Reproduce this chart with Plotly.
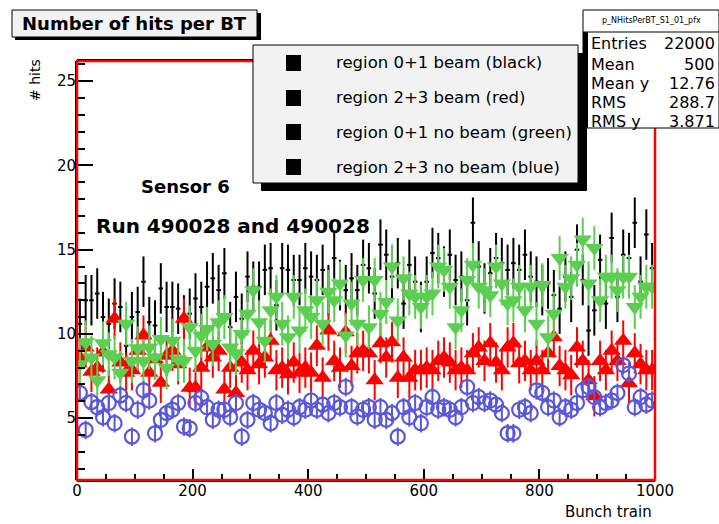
import plotly.graph_objects as go

# ---------------- data ----------------
bunch_train = [5 + 10 * i for i in range(100)]

black_beam01 = [10.6, 12.0, 12.0, 12.4, 11.0, 10.6, 11.8, 11.6, 9.3, 11.0,
                11.3, 13.1, 10.7, 10.5, 12.7, 11.6, 11.6, 11.5, 10.8, 11.2,
                12.1, 11.6, 12.8, 13.3, 12.6,
                13.6, 10.4, 12.2, 10.9, 13.4, 12.8, 12.8, 13.8, 13.9, 11.7,
                13.9, 13.8, 13.2, 13.2, 13.9, 13.4, 13.2, 13.8, 12.6, 14.5,
                12.9, 12.6, 13.3, 12.6, 14.1,
                13.9, 12.4, 15.3, 14.7, 13.4, 14.2, 11.8, 14.1, 13.1, 11.6,
                13.1, 14.8, 14.5, 13.7, 14.7, 13.2, 13.4, 12.0, 16.6, 14.0,
                12.7, 13.6, 14.5, 14.2, 13.8,
                14.2, 13.8, 14.7, 13.4, 13.1, 12.6, 13.0, 12.3, 11.5, 13.4,
                12.2, 15.0, 13.2, 10.2, 11.4, 14.4, 11.8, 15.7, 12.2, 14.7,
                14.5, 16.6, 13.1, 15.9, 13.9]

red_beam23 = [8.6, 9.2, 7.75, 8.0, 8.9, 6.7, 10.9, 8.3, 7.7, 7.85,
              9.0, 9.9, 7.7, 8.5, 7.1, 8.7, 9.0, 8.2, 10.9, 6.8,
              6.8, 8.0, 9.2, 8.6, 9.0,
              6.7, 8.0, 6.5, 8.3, 7.85, 9.0, 8.2, 8.6, 9.6, 7.85,
              8.0, 7.6, 8.3, 7.7, 8.0, 7.7, 9.3, 7.4, 10.2, 8.4,
              8.0, 10.1, 8.1, 8.85, 9.0,
              8.85, 7.25, 9.45, 8.6, 9.5, 7.4, 8.6, 7.4, 7.85, 7.85,
              8.0, 7.85, 8.4, 8.6, 8.3, 7.85, 8.0, 7.85, 8.85, 9.2,
              8.4, 9.45, 8.3, 7.85, 9.2,
              9.45, 8.26, 8.4, 7.85, 8.4, 7.85, 8.85, 9.8, 8.1, 7.85,
              7.55, 9.2, 8.4, 7.25, 6.3, 8.4, 7.85, 9.0, 8.4, 9.6,
              7.07, 8.85, 8.2, 7.85, 7.85]

green_nobeam01 = [8.2, 9.5, 8.6, 7.25, 9.45, 8.8, 8.6, 7.7, 10.6, 8.4,
                  9.15, 8.4, 9.2, 8.6, 9.7, 8.0, 9.6, 8.5, 8.4, 10.4,
                  9.0, 9.9, 10.3, 9.4, 10.7,
                  11.0, 9.2, 8.85, 10.0, 11.2, 12.6, 10.7, 9.6, 11.4, 12.2,
                  10.6, 9.8, 12.2, 10.2, 11.4, 11.0, 12.0, 10.6, 12.5, 12.0,
                  13.0, 9.9, 11.8, 10.6, 13.2,
                  10.4, 13.2, 11.2, 11.9, 14.0, 10.8, 13.3, 12.4, 12.2, 11.6,
                  12.2, 12.4, 14.0, 13.8, 12.8, 10.4, 11.4, 13.2, 14.1, 12.8,
                  12.6, 12.3, 14.0, 13.0, 11.8,
                  12.0, 12.8, 11.4, 12.8, 10.6, 12.9, 9.8, 11.2, 14.5, 12.8,
                  13.3, 14.1, 15.6, 13.0, 15.1, 12.0, 13.4, 13.4, 12.6, 13.4,
                  13.4, 11.6, 12.2, 12.8, 12.8]

blue_nobeam23 = [6.5, 4.3, 5.95, 5.65, 5.05, 5.9, 4.7, 6.35, 5.9, 3.9,
                 5.5, 6.65, 6.05, 4.1, 4.9, 5.3, 5.5, 5.9, 4.5, 4.4,
                 5.9, 6.2, 5.65, 4.9, 5.5,
                 5.5, 5.05, 5.9, 3.9, 4.9, 5.9, 5.5, 5.3, 4.7, 5.9,
                 5.2, 5.5, 5.05, 5.65, 5.5, 6.05, 5.5, 5.8, 5.3, 5.9,
                 5.65, 6.85, 5.65, 5.1, 5.5,
                 5.65, 4.9, 5.65, 4.9, 5.3, 3.9, 5.65, 5.05, 5.9, 4.7,
                 5.65, 6.25, 5.5, 5.65, 5.5, 5.05, 5.65, 6.85, 5.9, 6.25,
                 5.9, 6.05, 5.8, 5.3, 4.1,
                 4.1, 5.5, 5.65, 5.3, 6.65, 6.5, 5.65, 6.05, 5.05, 5.65,
                 5.5, 5.9, 6.65, 6.85, 6.25, 5.65, 5.9, 6.05, 6.5, 8.15,
                 7.65, 5.65, 6.25, 5.8, 6.05]

legend_labels = ["region 0+1 beam (black)", "region 2+3 beam (red)",
                 "region 0+1 no beam (green)", "region 2+3 no beam (blue)"]
stats_names = ["Entries", "Mean", "Mean y", "RMS", "RMS y"]
stats_values = ["22000", "500", "12.76", "288.7", "3.871"]

# ---------------- layout geometry (pixels) ----------------
W, H = 719, 524
L, R, T, B = 77, 655, 61, 480
FONT = "DejaVu Sans, Liberation Sans, Arial, sans-serif"


def px(x):
    return (x - L) / (R - L)


def py(y):
    return (B - y) / (B - T)


fig = go.Figure()

fig.add_trace(go.Scatter(
    x=bunch_train, y=black_beam01, mode="markers",
    marker=dict(size=1, color="black"),
    error_y=dict(type="constant", value=1.5, thickness=2, width=0, color="black"),
    error_x=dict(type="constant", value=4, thickness=2, width=0, color="black"),
    showlegend=False))
fig.add_trace(go.Scatter(
    x=bunch_train, y=red_beam23, mode="markers",
    marker=dict(symbol="triangle-up", size=16, color="#ff0000", line=dict(width=0)),
    error_y=dict(type="constant", value=1.2, thickness=2, width=0, color="#ff0000"),
    showlegend=False))
fig.add_trace(go.Scatter(
    x=bunch_train, y=green_nobeam01, mode="markers",
    marker=dict(symbol="triangle-down", size=16, color="#5ccf52", line=dict(width=0)),
    error_y=dict(type="constant", value=1.3, thickness=2, width=0, color="#5ccf52"),
    showlegend=False))
fig.add_trace(go.Scatter(
    x=bunch_train, y=blue_nobeam23, mode="markers",
    marker=dict(symbol="circle-open", size=14, color="#5a58d8", line=dict(width=2.2, color="#5a58d8")),
    error_y=dict(type="constant", value=0.55, thickness=2, width=0, color="#5a58d8"),
    showlegend=False))

shapes = []
annotations = []

# plot frame (red with black axis lines)
shapes.append(dict(type="rect", xref="paper", yref="paper", x0=0, x1=1, y0=0, y1=1,
                   line=dict(color="#ff0000", width=2.5), layer="above"))
shapes.append(dict(type="line", xref="paper", yref="paper", x0=px(L - 1.5), x1=px(L - 1.5), y0=0, y1=1,
                   line=dict(color="black", width=1), layer="above"))
shapes.append(dict(type="line", xref="paper", yref="paper", x0=0, x1=1, y0=py(B + 1.5), y1=py(B + 1.5),
                   line=dict(color="black", width=1), layer="above"))
shapes.append(dict(type="line", xref="paper", yref="paper", x0=0, x1=1, y0=py(T - 1.5), y1=py(T - 1.5),
                   line=dict(color="black", width=1), layer="above"))

# title box
shapes.append(dict(type="rect", xref="paper", yref="paper", x0=px(15), x1=px(261), y0=py(40), y1=py(13),
                   fillcolor="black", line=dict(width=0)))
shapes.append(dict(type="rect", xref="paper", yref="paper", x0=px(12), x1=px(257), y0=py(37), y1=py(10),
                   fillcolor="#f2f2f2", line=dict(color="black", width=1)))
annotations.append(dict(xref="paper", yref="paper", x=px(134), y=py(23.5), text="<b>Number of hits per BT</b>",
                        showarrow=False, xanchor="center", yanchor="middle",
                        font=dict(family=FONT, size=18, color="black")))

# legend box
shapes.append(dict(type="rect", xref="paper", yref="paper", x0=px(261), x1=px(587), y0=py(191), y1=py(53),
                   fillcolor="black", line=dict(width=0)))
shapes.append(dict(type="rect", xref="paper", yref="paper", x0=px(253), x1=px(578), y0=py(183), y1=py(45),
                   fillcolor="#f2f2f2", line=dict(color="black", width=1)))
row_y = [63, 98, 132, 167]
for lab, yy in zip(legend_labels, row_y):
    shapes.append(dict(type="rect", xref="paper", yref="paper", x0=px(286), x1=px(301), y0=py(yy + 8), y1=py(yy - 8),
                       fillcolor="black", line=dict(width=0)))
    annotations.append(dict(xref="paper", yref="paper", x=px(334), y=py(yy), text=lab, showarrow=False,
                            xanchor="left", yanchor="middle",
                            font=dict(family=FONT, size=16.5, color="black")))

# stats box
shapes.append(dict(type="rect", xref="paper", yref="paper", x0=px(583), x1=px(719), y0=py(128), y1=py(10),
                   fillcolor="white", line=dict(color="black", width=1)))
shapes.append(dict(type="rect", xref="paper", yref="paper", x0=px(583), x1=px(588), y0=py(128), y1=py(32),
                   fillcolor="black", line=dict(width=0)))
shapes.append(dict(type="line", xref="paper", yref="paper", x0=px(583), x1=px(719), y0=py(32), y1=py(32),
                   line=dict(color="black", width=1)))
annotations.append(dict(xref="paper", yref="paper", x=px(651), y=py(20), text="p_NHitsPerBT_S1_01_pfx",
                        showarrow=False, xanchor="center", yanchor="middle",
                        font=dict(family=FONT, size=8, color="black")))
stat_y = [44, 64, 83, 102, 121]
for nm, val, yy in zip(stats_names, stats_values, stat_y):
    annotations.append(dict(xref="paper", yref="paper", x=px(589), y=py(yy), text=nm, showarrow=False,
                            xanchor="left", yanchor="middle", font=dict(family=FONT, size=16, color="black")))
    annotations.append(dict(xref="paper", yref="paper", x=px(717), y=py(yy), text=val, showarrow=False,
                            xanchor="right", yanchor="middle", font=dict(family=FONT, size=16, color="black")))

# text labels in the plot
annotations.append(dict(xref="paper", yref="paper", x=px(139), y=py(186), text="<b>Sensor 6</b>", showarrow=False,
                        xanchor="left", yanchor="middle", font=dict(family=FONT, size=18, color="black")))
annotations.append(dict(xref="paper", yref="paper", x=px(94), y=py(226), text="<b>Run 490028 and 490028</b>",
                        showarrow=False, xanchor="left", yanchor="middle",
                        font=dict(family=FONT, size=20, color="black")))

# axis titles
annotations.append(dict(xref="paper", yref="paper", x=px(35), y=py(57), text="# hits", showarrow=False,
                        textangle=-90, xanchor="center", yanchor="top",
                        font=dict(family=FONT, size=14, color="black")))
annotations.append(dict(xref="paper", yref="paper", x=px(654), y=py(512), text="Bunch train", showarrow=False,
                        xanchor="right", yanchor="middle", font=dict(family=FONT, size=15, color="black")))

fig.update_layout(
    width=W, height=H,
    margin=dict(l=L, r=W - R, t=T, b=H - B, pad=0),
    paper_bgcolor="white", plot_bgcolor="white",
    shapes=shapes, annotations=annotations,
    showlegend=False,
    xaxis=dict(range=[0, 1000], tickmode="array", tickvals=[0, 200, 400, 600, 800, 1000],
               ticks="inside", ticklen=11, tickwidth=1.5, tickcolor="black",
               minor=dict(dtick=50, tick0=0, ticks="inside", ticklen=6, tickwidth=1.5,
                          tickcolor="black", showgrid=False),
               showgrid=False, zeroline=False, showline=False,
               tickfont=dict(family=FONT, size=15, color="black")),
    yaxis=dict(range=[1.33, 26.2], tickmode="array", tickvals=[5, 10, 15, 20, 25],
               ticks="inside", ticklen=16, tickwidth=1.5, tickcolor="black",
               minor=dict(dtick=1, tick0=0, ticks="inside", ticklen=8, tickwidth=1.5,
                          tickcolor="black", showgrid=False),
               showgrid=False, zeroline=False, showline=False,
               tickfont=dict(family=FONT, size=15, color="black")),
)

fig.write_html("out.html")
